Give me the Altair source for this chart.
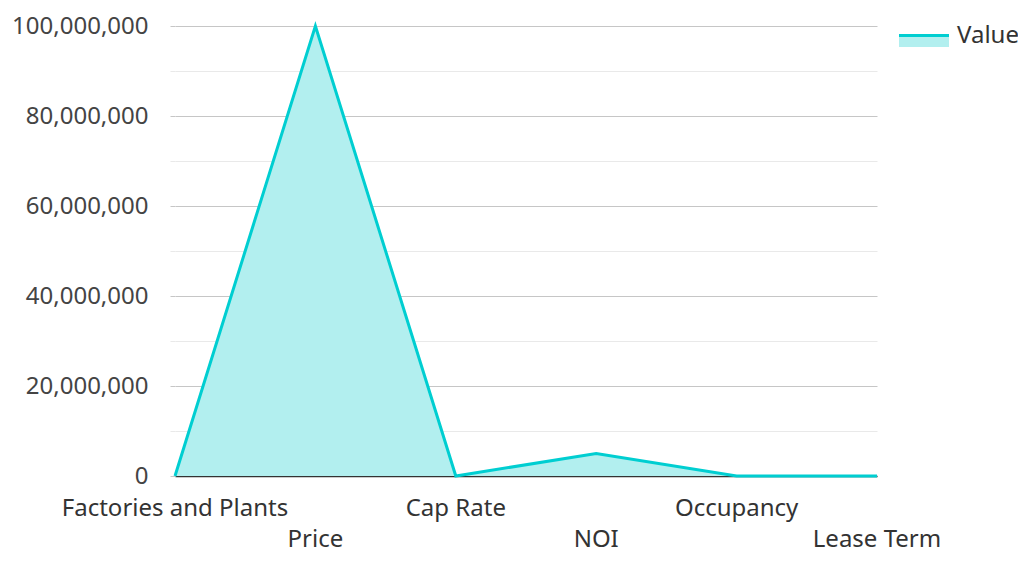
import altair as alt
import pandas as pd

categories = ["Factories and Plants", "Price", "Cap Rate", "NOI", "Occupancy", "Lease Term"]
values = [0, 100000000, 7, 5000000, 95, 10]
series_name = "Value"
y_ticks = [0, 10000000, 20000000, 30000000, 40000000, 50000000,
           60000000, 70000000, 80000000, 90000000, 100000000]

W, H = 702, 450
TOP = 18
FONT = "Noto Sans"
FS = 24
LINE = "#00CED1"
FILL = "#B2EFEF"

df = pd.DataFrame({"category": categories, "value": values})

x_enc = alt.X("category:N", sort=categories,
              scale=alt.Scale(type="point", padding=0),
              axis=alt.Axis(labels=False, ticks=False, grid=False, title=None,
                            domain=True, domainColor="#333333", domainWidth=1.5))

base = alt.Chart(df)

area = base.mark_area(color=FILL, opacity=1, line=alt.LineConfig(color=LINE, strokeWidth=3)).encode(
    x=x_enc,
    y=alt.Y("value:Q", scale=alt.Scale(domain=[0, 100000000], nice=False),
            axis=alt.Axis(
                values=y_ticks, title=None, format=",d",
                labelExpr="datum.value % 20000000 === 0 ? datum.label : ''",
                labelFont=FONT, labelFontSize=FS, labelColor="#444444",
                labelPadding=22, tickSize=5, domain=False,
                gridColor=alt.condition("datum.value % 20000000 === 0",
                                        alt.value("#c6c6c6"), alt.value("#e9e9e9")),
                tickColor=alt.condition("datum.value % 20000000 === 0",
                                        alt.value("#c6c6c6"), alt.value("#e9e9e9")),
            )),
)

labels_base = base.transform_window(idx="row_number()").transform_calculate(
    row="(datum.idx - 1) % 2"
)
lab_style = dict(font=FONT, fontSize=FS, color="#333333", baseline="middle", align="center")
labels_top = labels_base.transform_filter("datum.row === 0").mark_text(**lab_style).encode(
    x=alt.X("category:N", sort=categories), y=alt.value(H + 33), text="category:N")
labels_bot = labels_base.transform_filter("datum.row === 1").mark_text(**lab_style).encode(
    x=alt.X("category:N", sort=categories), y=alt.value(H + 64), text="category:N")

leg = alt.Chart(pd.DataFrame({"series": [series_name]}))
leg_fill = leg.mark_rect(color=FILL).encode(
    x=alt.value(W + 22), x2=alt.value(W + 72), y=alt.value(11), y2=alt.value(21))
leg_line = leg.mark_rule(color=LINE, strokeWidth=3).encode(
    x=alt.value(W + 22), x2=alt.value(W + 72), y=alt.value(9.5))
leg_text = leg.mark_text(font=FONT, fontSize=FS, color="#333333", align="left",
                         baseline="middle").encode(
    x=alt.value(W + 80), y=alt.value(10), text="series:N")

chart = alt.layer(area, labels_top, labels_bot, leg_fill, leg_line, leg_text).properties(
    width=W, height=H,
    autosize=alt.AutoSizeParams(type="none"),
    padding={"left": 167, "top": TOP, "right": 1010 - 167 - W, "bottom": 546 - TOP - H},
).configure_view(stroke=None)

chart.save("out.html", embed_options={"renderer": "svg", "actions": False})
